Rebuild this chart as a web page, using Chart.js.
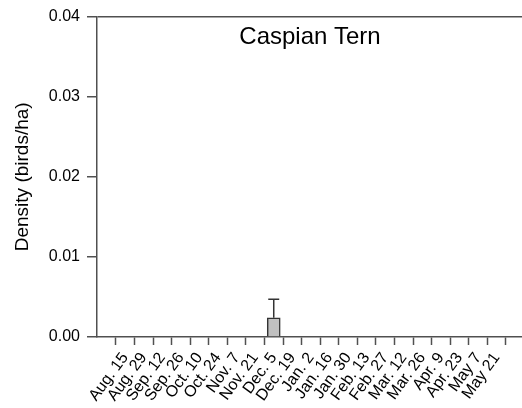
<!DOCTYPE html>
<html>
<head>
<meta charset="utf-8">
<script src="https://cdn.jsdelivr.net/npm/chart.js@4.4.1/dist/chart.umd.min.js"></script>
<style>
  body { margin: 0; background: #fff; overflow: hidden; }
  canvas { display: block; }
</style>
</head>
<body>
<canvas id="chart" width="522" height="408"></canvas>
<script>
// survey dates (x categories)
const dates = ['Aug. 15', 'Aug. 29', 'Sep. 12', 'Sep. 26', 'Oct. 10', 'Oct. 24', 'Nov. 7',
  'Nov. 21', 'Dec. 5', 'Dec. 19', 'Jan. 2', 'Jan. 16', 'Jan. 30', 'Feb. 13', 'Feb. 27',
  'Mar. 12', 'Mar. 26', 'Apr. 9', 'Apr. 23', 'May 7', 'May 21'];

// mean density per date (birds/ha)
const density = [0, 0, 0, 0, 0, 0, 0, 0, 0.0024, 0, 0, 0, 0, 0, 0, 0, 0, 0, 0, 0, 0];
// upper error (added on top of the mean)
const densityErr = [0, 0, 0, 0, 0, 0, 0, 0, 0.0023, 0, 0, 0, 0, 0, 0, 0, 0, 0, 0, 0, 0];

const yTicks = [0, 0.01, 0.02, 0.03, 0.04];
const titleText = 'Caspian Tern';

const axisColor = '#505050';
const fontFamily = '"Liberation Sans", Arial, sans-serif';

const errorBars = {
  id: 'errorBars',
  afterDatasetsDraw(chart) {
    const { ctx, scales: { x, y } } = chart;
    ctx.save();
    ctx.strokeStyle = '#333';
    ctx.lineWidth = 1.5;
    density.forEach((v, i) => {
      if (!densityErr[i]) return;
      const px = x.getPixelForValue(i);
      const top = y.getPixelForValue(v + densityErr[i]);
      const base = y.getPixelForValue(v);
      ctx.beginPath();
      ctx.moveTo(px, base);
      ctx.lineTo(px, top);
      ctx.moveTo(px - 5.5, top);
      ctx.lineTo(px + 5.5, top);
      ctx.stroke();
    });
    ctx.restore();
  }
};

const innerTitle = {
  id: 'innerTitle',
  afterDraw(chart) {
    const { ctx, chartArea } = chart;
    ctx.save();
    ctx.fillStyle = '#000';
    ctx.font = '24px ' + fontFamily;
    ctx.textAlign = 'center';
    ctx.textBaseline = 'alphabetic';
    ctx.fillText(titleText, chartArea.left + 213, chartArea.top + 27);
    ctx.restore();
  }
};

new Chart(document.getElementById('chart'), {
  type: 'bar',
  data: {
    datasets: [{
      data: density.map((v, i) => ({ x: i, y: v })),
      backgroundColor: '#c0c0c0',
      borderColor: '#333',
      borderWidth: 1.5,
      barThickness: 13
    }]
  },
  options: {
    responsive: false,
    animation: false,
    layout: { padding: { top: 14, right: 0, left: 0, bottom: 0 } },
    plugins: { legend: { display: false }, tooltip: { enabled: false } },
    scales: {
      x: {
        type: 'linear',
        min: -0.97,
        max: 20.82,
        afterBuildTicks: s => { s.ticks = dates.map((_, i) => ({ value: i })); },
        afterFit: s => { s.height = 71; },
        grid: { drawOnChartArea: false, tickLength: 8, tickColor: axisColor, tickWidth: 1.5 },
        border: { color: axisColor, width: 1.5 },
        ticks: {
          autoSkip: false,
          maxRotation: 54,
          minRotation: 54,
          padding: 4,
          color: '#000',
          font: { family: fontFamily, size: 16 },
          callback: v => dates[v]
        }
      },
      y: {
        min: 0,
        max: 0.04,
        afterBuildTicks: s => { s.ticks = yTicks.map(v => ({ value: v })); },
        afterFit: s => { s.width = 97; },
        grid: {
          color: c => (c.tick && c.tick.value === 0.04 ? axisColor : 'transparent'),
          tickColor: axisColor,
          tickLength: 10,
          lineWidth: 1.5,
          tickWidth: 1.5
        },
        border: { color: axisColor, width: 1.5 },
        title: {
          display: true,
          text: 'Density (birds/ha)',
          color: '#000',
          font: { family: fontFamily, size: 19 },
          padding: { top: 11, bottom: 0 }
        },
        ticks: {
          padding: 7,
          color: '#000',
          font: { family: fontFamily, size: 16 },
          callback: v => v.toFixed(2)
        }
      }
    }
  },
  plugins: [errorBars, innerTitle]
});
</script>
</body>
</html>
